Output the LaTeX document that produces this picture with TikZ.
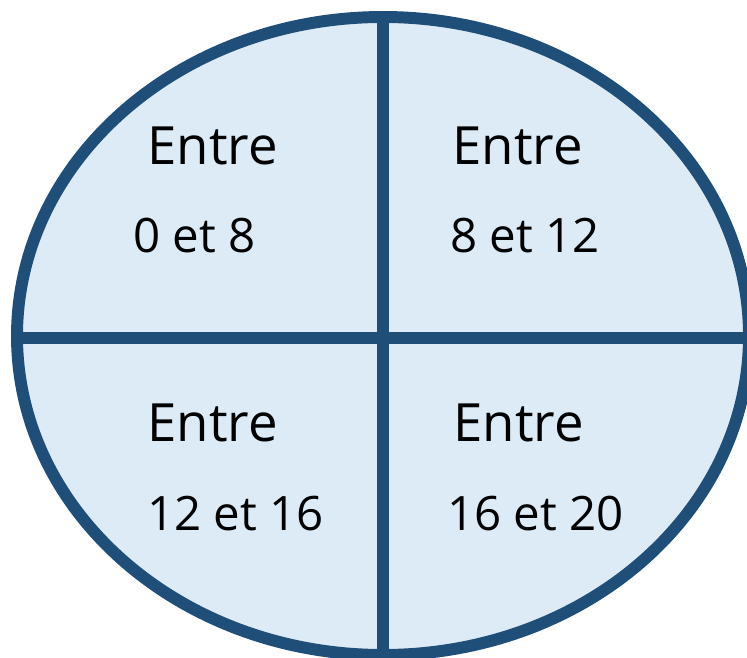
\documentclass[tikz,border=0pt]{standalone}
\usepackage{fontspec}
\setmainfont{Open Sans}
\usepackage{xcolor}
\usetikzlibrary{positioning}
\definecolor{rimblue}{RGB}{31,78,121}
\definecolor{paleblue}{RGB}{221,235,247}
\tikzset{rim/.style={draw=rimblue,line width=6.8pt},
  word/.style={anchor=base west,inner sep=0pt,font=\fontsize{30}{32}\selectfont},
  bounds/.style={anchor=base west,inner sep=0pt,font=\fontsize{27}{29}\selectfont}}

\begin{document}
\begin{tikzpicture}[x=0.02cm,y=-0.02cm]
\useasboundingbox (0,0) rectangle (747,658);
\clip (0,0) rectangle (747,658);
\fill[paleblue] (383,336) ellipse [x radius=366,y radius=319];
% cross
\coordinate (top) at (383,17);
\coordinate (bot) at (383,658);
\coordinate (lft) at (17,338);
\coordinate (rgt) at (752,338);
\draw[rim] (top) -- (bot);
\draw[rim] (lft) -- (rgt);
\draw[rim] (383,336) ellipse [x radius=366,y radius=319];
% labels
\node[word] (tlw) at (147,165) {Entre};
\node[bounds] (tln) at (133,253) {0 et 8};
\node[word] (trw) at (452,165) {Entre};
\node[bounds] (trn) at (450,253) {8 et 12};
\node[word] (blw) at (147,441) {Entre};
\node[bounds] (bln) at (147,530) {12 et 16};
\node[word] (brw) at (453,441) {Entre};
\node[bounds] (brn) at (447,530) {16 et 20};
\end{tikzpicture}
\end{document}
